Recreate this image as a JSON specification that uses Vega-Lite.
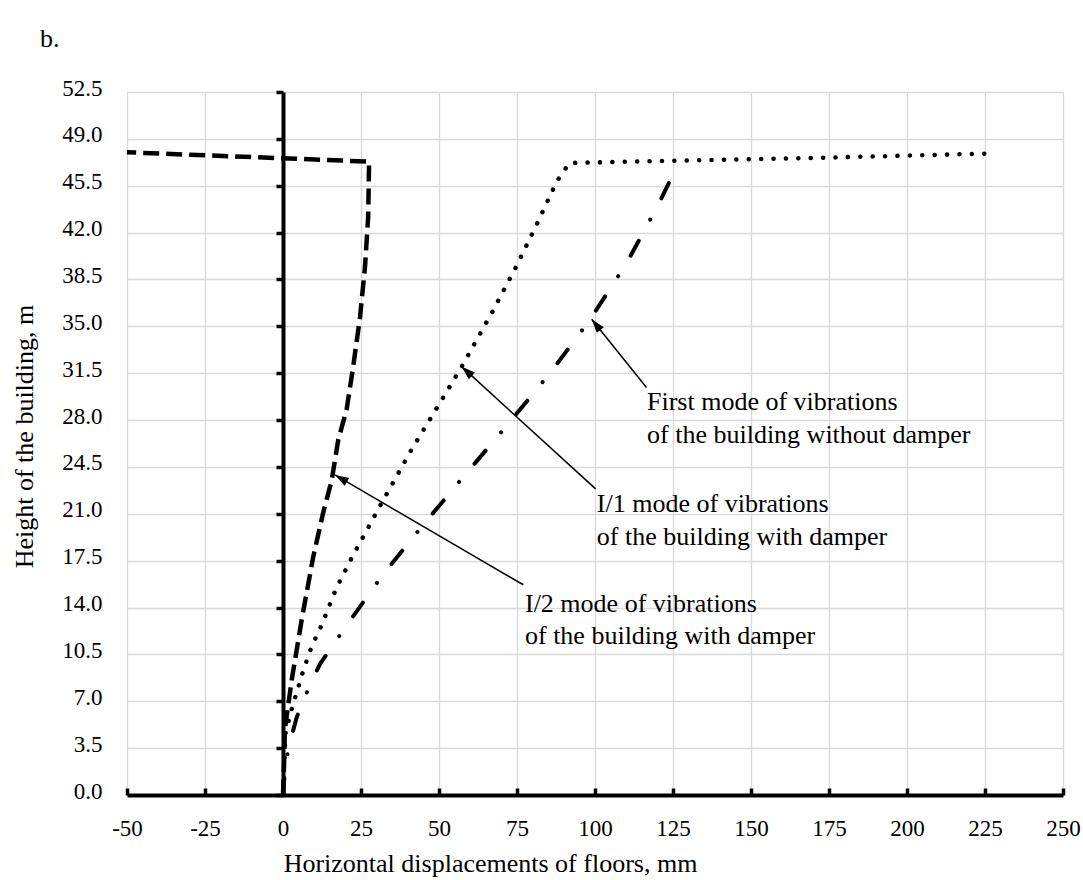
{
  "$schema": "https://vega.github.io/schema/vega-lite/v6.json",
  "width": 936,
  "height": 703,
  "autosize": {"type": "none"},
  "padding": {"left": 127, "top": 92, "right": 20, "bottom": 85},
  "background": "white",
  "title": {"text": "b.", "anchor": "start", "frame": "group", "dx": -87, "dy": 40, "offset": 44, "baseline": "alphabetic", "font": "Liberation Serif", "fontSize": 26, "fontWeight": "normal", "color": "black"},
  "config": {"view": {"stroke": null}, "font": "Liberation Serif"},
  "datasets": {
    "curves": [
      {"s": "I2", "k": 0, "x": 0, "h": 0},
      {"s": "I2", "k": 1, "x": 0.3, "h": 2.0},
      {"s": "I2", "k": 2, "x": 0.6, "h": 4.9},
      {"s": "I2", "k": 3, "x": 2.8, "h": 8.6},
      {"s": "I2", "k": 4, "x": 6.0, "h": 13.1},
      {"s": "I2", "k": 5, "x": 9.7, "h": 17.8},
      {"s": "I2", "k": 6, "x": 12.8, "h": 21.0},
      {"s": "I2", "k": 7, "x": 15.6, "h": 23.5},
      {"s": "I2", "k": 8, "x": 17.7, "h": 26.5},
      {"s": "I2", "k": 9, "x": 20.4, "h": 28.8},
      {"s": "I2", "k": 10, "x": 22.5, "h": 32.0},
      {"s": "I2", "k": 11, "x": 24.7, "h": 35.7},
      {"s": "I2", "k": 12, "x": 26.3, "h": 39.5},
      {"s": "I2", "k": 13, "x": 27.3, "h": 43.2},
      {"s": "I2", "k": 14, "x": 27.6, "h": 47.3},
      {"s": "I2", "k": 15, "x": -50, "h": 48.0},
      {"s": "I1", "k": 0, "x": 0, "h": 0},
      {"s": "I1", "k": 1, "x": 0.3, "h": 2.0},
      {"s": "I1", "k": 2, "x": 0.8, "h": 4.6},
      {"s": "I1", "k": 3, "x": 3.0, "h": 6.6},
      {"s": "I1", "k": 4, "x": 4.2, "h": 7.5},
      {"s": "I1", "k": 5, "x": 6.5, "h": 9.3},
      {"s": "I1", "k": 6, "x": 9.2, "h": 11.1},
      {"s": "I1", "k": 7, "x": 12.4, "h": 12.7},
      {"s": "I1", "k": 8, "x": 17.0, "h": 15.4},
      {"s": "I1", "k": 9, "x": 22.0, "h": 17.7},
      {"s": "I1", "k": 10, "x": 31.6, "h": 21.8},
      {"s": "I1", "k": 11, "x": 41.2, "h": 25.8},
      {"s": "I1", "k": 12, "x": 49.3, "h": 28.9},
      {"s": "I1", "k": 13, "x": 57.3, "h": 32.0},
      {"s": "I1", "k": 14, "x": 66.9, "h": 36.0},
      {"s": "I1", "k": 15, "x": 74.4, "h": 39.3},
      {"s": "I1", "k": 16, "x": 81.3, "h": 42.6},
      {"s": "I1", "k": 17, "x": 84.5, "h": 44.2},
      {"s": "I1", "k": 18, "x": 87.7, "h": 45.8},
      {"s": "I1", "k": 19, "x": 91.8, "h": 47.2},
      {"s": "I1", "k": 20, "x": 174.4, "h": 47.6},
      {"s": "I1", "k": 21, "x": 225.5, "h": 47.9},
      {"s": "F1", "k": 0, "x": 0, "h": 0},
      {"s": "F1", "k": 1, "x": 0.5, "h": 1.5},
      {"s": "F1", "k": 2, "x": 1.7, "h": 3.5},
      {"s": "F1", "k": 3, "x": 4.4, "h": 5.8},
      {"s": "F1", "k": 4, "x": 8.4, "h": 8.1},
      {"s": "F1", "k": 5, "x": 11.9, "h": 9.8},
      {"s": "F1", "k": 6, "x": 19.3, "h": 12.3},
      {"s": "F1", "k": 7, "x": 31.8, "h": 16.4},
      {"s": "F1", "k": 8, "x": 45.0, "h": 20.2},
      {"s": "F1", "k": 9, "x": 58.7, "h": 24.0},
      {"s": "F1", "k": 10, "x": 72.5, "h": 27.8},
      {"s": "F1", "k": 11, "x": 85.9, "h": 31.6},
      {"s": "F1", "k": 12, "x": 98.4, "h": 35.5},
      {"s": "F1", "k": 13, "x": 110.1, "h": 39.7},
      {"s": "F1", "k": 14, "x": 120.3, "h": 44.1},
      {"s": "F1", "k": 15, "x": 127.0, "h": 47.3}
    ],
    "arrows": [
      {"id": "a1", "x": 116.5, "h": 30.43, "x2": 98.94, "h2": 35.53},
      {"id": "a2", "x": 100.2, "h": 22.86, "x2": 57.28, "h2": 31.99},
      {"id": "a3", "x": 77.0, "h": 15.7, "x2": 16.67, "h2": 23.9}
    ],
    "labels": [
      {"x": 116.67, "h": 28.75, "t": "First mode of vibrations\nof the building without damper"},
      {"x": 100.6, "h": 21.13, "t": "I/1 mode of vibrations\nof the building with damper"},
      {"x": 77.56, "h": 13.67, "t": "I/2 mode of vibrations\nof the building with damper"}
    ]
  },
  "layer": [
    {
      "data": {"name": "curves"},
      "transform": [{"filter": "datum.s === 'I2'"}],
      "mark": {"type": "line", "color": "black", "strokeWidth": 4.5, "strokeDash": [16, 7], "strokeJoin": "round"},
      "encoding": {
        "x": {"field": "x", "type": "quantitative",
          "scale": {"domain": [-50, 250], "nice": false, "zero": false},
          "axis": {"values": [-50, -25, 0, 25, 50, 75, 100, 125, 150, 175, 200, 225, 250], "labelExpr": "datum.value + ''",
            "grid": true, "gridColor": "#d9d9d9", "gridWidth": 1.3,
            "domainColor": "black", "domainWidth": 4, "tickColor": "black", "tickWidth": 3.5, "tickSize": -7,
            "labelFont": "Liberation Serif", "labelFontSize": 23, "labelColor": "black", "labelPadding": 29, "labelFlush": false,
            "title": "Horizontal displacements of floors, mm", "titleFont": "Liberation Serif", "titleFontSize": 26, "titleFontWeight": "normal", "titleColor": "black",
            "titleX": 363, "titleY": 68, "titleAlign": "center", "titleBaseline": "middle"}},
        "y": {"field": "h", "type": "quantitative",
          "scale": {"domain": [0, 52.5], "nice": false, "zero": false},
          "axis": {"values": [0, 3.5, 7, 10.5, 14, 17.5, 21, 24.5, 28, 31.5, 35, 38.5, 42, 45.5, 49, 52.5], "format": ".1f",
            "domain": false, "ticks": false, "grid": true, "gridColor": "#d9d9d9", "gridWidth": 1.3,
            "labelFont": "Liberation Serif", "labelFontSize": 23, "labelColor": "black", "labelPadding": 25, "labelOffset": -4, "labelFlush": false,
            "title": "Height of the building, m", "titleFont": "Liberation Serif", "titleFontSize": 26, "titleFontWeight": "normal", "titleColor": "black",
            "titleX": -103, "titleY": 344, "titleAlign": "center", "titleBaseline": "middle", "titleAngle": 270}},
        "order": {"field": "k", "type": "quantitative"}
      }
    },
    {
      "data": {"name": "curves"},
      "transform": [{"filter": "datum.s === 'I1'"}],
      "mark": {"type": "line", "color": "black", "strokeWidth": 4.5, "strokeDash": [0.1, 12.3], "strokeCap": "round", "strokeJoin": "round"},
      "encoding": {
        "x": {"field": "x", "type": "quantitative"},
        "y": {"field": "h", "type": "quantitative", "axis": null},
        "order": {"field": "k", "type": "quantitative"}
      }
    },
    {
      "data": {"name": "curves"},
      "transform": [{"filter": "datum.s === 'F1'"}],
      "mark": {"type": "line", "color": "black", "strokeWidth": 4, "strokeDash": [17, 24, 0.1, 24], "strokeCap": "round", "strokeJoin": "round"},
      "encoding": {
        "x": {"field": "x", "type": "quantitative"},
        "y": {"field": "h", "type": "quantitative", "axis": null},
        "order": {"field": "k", "type": "quantitative"}
      }
    },
    {
      "data": {"name": "arrows"},
      "mark": {"type": "rule", "color": "black", "strokeWidth": 1.5},
      "encoding": {
        "x": {"field": "x", "type": "quantitative"},
        "y": {"field": "h", "type": "quantitative", "axis": null},
        "x2": {"field": "x2"},
        "y2": {"field": "h2"}
      }
    },
    {
      "data": {"name": "arrows"},
      "transform": [{"filter": "datum.id === 'a1'"}],
      "mark": {"type": "point", "shape": "M0,0L-2.3,-0.75L-2.3,0.75Z", "filled": true, "color": "black", "opacity": 1, "size": 144, "angle": 231.3},
      "encoding": {
        "x": {"field": "x2", "type": "quantitative"},
        "y": {"field": "h2", "type": "quantitative", "axis": null}
      }
    },
    {
      "data": {"name": "arrows"},
      "transform": [{"filter": "datum.id === 'a2'"}],
      "mark": {"type": "point", "shape": "M0,0L-2.3,-0.75L-2.3,0.75Z", "filled": true, "color": "black", "opacity": 1, "size": 144, "angle": 222.4},
      "encoding": {
        "x": {"field": "x2", "type": "quantitative"},
        "y": {"field": "h2", "type": "quantitative", "axis": null}
      }
    },
    {
      "data": {"name": "arrows"},
      "transform": [{"filter": "datum.id === 'a3'"}],
      "mark": {"type": "point", "shape": "M0,0L-2.3,-0.75L-2.3,0.75Z", "filled": true, "color": "black", "opacity": 1, "size": 144, "angle": 210.3},
      "encoding": {
        "x": {"field": "x2", "type": "quantitative"},
        "y": {"field": "h2", "type": "quantitative", "axis": null}
      }
    },
    {
      "data": {"name": "labels"},
      "mark": {"type": "text", "align": "left", "baseline": "alphabetic", "font": "Liberation Serif", "fontSize": 26, "lineHeight": 32.5, "lineBreak": "\n", "color": "black"},
      "encoding": {
        "x": {"field": "x", "type": "quantitative"},
        "y": {"field": "h", "type": "quantitative",
          "axis": {"orient": "left", "offset": -156, "values": [0, 3.5, 7, 10.5, 14, 17.5, 21, 24.5, 28, 31.5, 35, 38.5, 42, 45.5, 49, 52.5],
            "labels": false, "grid": false, "domain": true, "domainColor": "black", "domainWidth": 4,
            "ticks": true, "tickColor": "black", "tickWidth": 3.5, "tickSize": 7, "title": null}},
        "text": {"field": "t"}
      }
    }
  ],
  "resolve": {"axis": {"y": "independent"}}
}
